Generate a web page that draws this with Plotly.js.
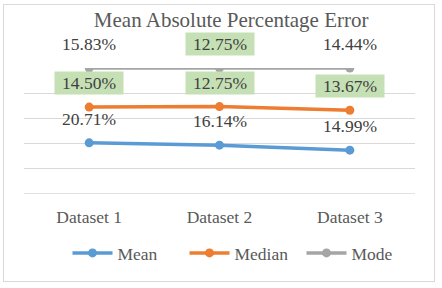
<!DOCTYPE html>
<html>
<head>
<meta charset="utf-8">
<script src="https://cdn.plot.ly/plotly-3.0.1.min.js"></script>
<style>
  html, body { margin: 0; padding: 0; background: #fff; }
  #wrap { position: relative; width: 442px; height: 288px; }
  #chart { position: absolute; left: 0; top: 0; width: 442px; height: 288px; }
  #frame { position: absolute; left: 3px; top: 4px; width: 430px; height: 276px;
           border: 1px solid #d9d9d9; pointer-events: none; }
</style>
</head>
<body>
<div id="wrap"><div id="chart"></div><div id="frame"></div></div>
<script>
// ---- data ----
const categories = ['Dataset 1', 'Dataset 2', 'Dataset 3'];
const seriesNames = ['Mean', 'Median', 'Mode'];
const meanValues = [20.71, 16.14, 14.99];
const medianValues = [14.50, 12.75, 13.67];
const modeValues = [15.83, 12.75, 14.44];
const yTicks = [0, 20, 40, 60, 80, 100];

// ---- style ----
const colors = ['#5b9bd5', '#ed7d31', '#a5a5a5'];
const highlighted = [[false, false, false], [true, true, true], [false, true, false]];
const serif = 'Liberation Serif, Times New Roman, serif';

const series = [meanValues, medianValues, modeValues];

const traces = series.map((vals, i) => ({
  type: 'scatter',
  x: categories,
  y: vals,
  name: seriesNames[i],
  stackgroup: 'one',
  groupnorm: 'percent',
  fill: 'none',
  mode: 'lines+markers',
  line: { color: colors[i], width: 3.5 },
  marker: { color: colors[i], size: 9 },
  hoverinfo: 'skip'
}));

const totals = categories.map((_, j) => series.reduce((s, v) => s + v[j], 0));
const annotations = [];
series.forEach((vals, i) => {
  vals.forEach((v, j) => {
    let cum = 0;
    for (let k = 0; k <= i; k++) cum += series[k][j];
    const pct = cum / totals[j] * 100;
    const hl = highlighted[i][j];
    annotations.push({
      x: categories[j], y: pct, xref: 'x', yref: 'y',
      text: v.toFixed(2) + '%',
      showarrow: false,
      yshift: 24,
      xanchor: 'center', yanchor: 'middle',
      font: { family: serif, size: 17.5, color: '#404040' },
      bgcolor: hl ? '#c5e0b4' : 'rgba(0,0,0,0)',
      width: 66, height: 20
    });
  });
});

const layout = {
  width: 442, height: 288,
  font: { family: serif, size: 17, color: '#595959' },
  margin: { l: 24, r: 27, t: 68, b: 94, autoexpand: false },
  paper_bgcolor: '#ffffff',
  plot_bgcolor: '#ffffff',
  title: {
    text: 'Mean Absolute Percentage Error',
    font: { family: serif, size: 21, color: '#595959' },
    xref: 'container', yref: 'container',
    x: 0.523, xanchor: 'center',
    y: 1 - 20 / 288, yanchor: 'middle'
  },
  xaxis: {
    type: 'category',
    range: [-0.5, 2.5],
    showgrid: false, zeroline: false, showline: false,
    ticks: '',
    ticklabelstandoff: 10,
    tickfont: { family: serif, size: 17.5, color: '#595959' },
    fixedrange: true
  },
  yaxis: {
    range: [0, 100],
    tickvals: yTicks,
    showticklabels: false,
    showgrid: true, gridcolor: '#d9d9d9', gridwidth: 1.3,
    zeroline: false, showline: false, ticks: '',
    fixedrange: true
  },
  shapes: [{
    type: 'line', xref: 'paper', x0: 0, x1: 1, yref: 'y', y0: 0, y1: 0,
    line: { color: '#d9d9d9', width: 1.3 }, layer: 'below'
  }],
  showlegend: true,
  legend: {
    orientation: 'h',
    x: (67.5 - 24) / 391, xanchor: 'left',
    y: (194 - 253) / 126, yanchor: 'middle',
    font: { family: serif, size: 17.5, color: '#595959' },
    traceorder: 'normal',
    itemwidth: 40,
    entrywidth: 62,
    entrywidthmode: 'pixels'
  },
  annotations: annotations
};

Plotly.newPlot('chart', traces, layout, { staticPlot: true, displayModeBar: false });
</script>
</body>
</html>
